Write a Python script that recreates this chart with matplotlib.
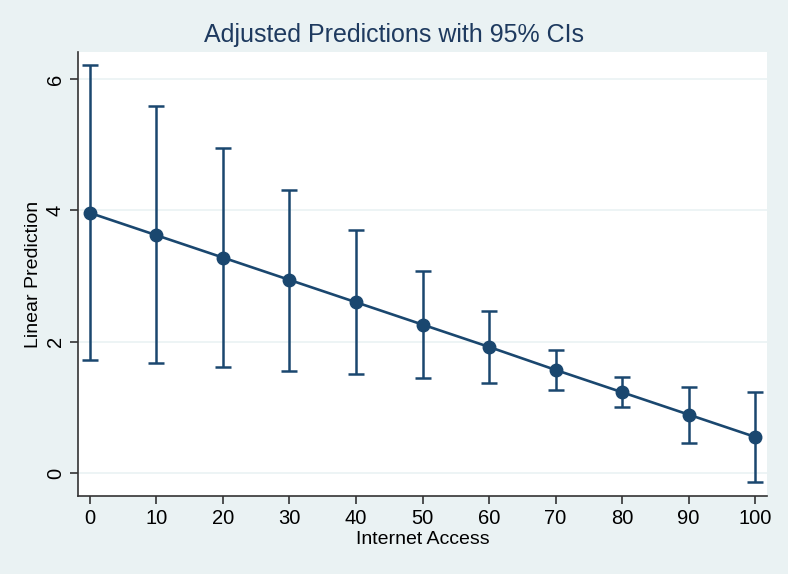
import numpy as np
import matplotlib
matplotlib.use('Agg')
import matplotlib.pyplot as plt

plt.rcParams['font.family'] = ['Liberation Sans', 'DejaVu Sans']

internet = [0, 10, 20, 30, 40, 50, 60, 70, 80, 90, 100]
pred = [3.96, 3.62, 3.28, 2.94, 2.60, 2.26, 1.92, 1.57, 1.23, 0.89, 0.55]
lower = [1.72, 1.67, 1.62, 1.56, 1.50, 1.44, 1.37, 1.27, 1.00, 0.46, -0.14]
upper = [6.21, 5.59, 4.95, 4.31, 3.70, 3.07, 2.46, 1.87, 1.46, 1.31, 1.23]

navy = '#1a476f'
bg = '#eaf2f3'

fig = plt.figure(figsize=(7.88, 5.74), dpi=100, facecolor=bg)
ax = fig.add_axes([78/788, 1 - 496/574, (767-78)/788, (496-52)/574])
ax.set_facecolor('white')

pred = np.array(pred)
yerr = [pred - np.array(lower), np.array(upper) - pred]
ax.errorbar(internet, pred, yerr=yerr, fmt='none', ecolor=navy, elinewidth=1.8,
            capsize=5.5, capthick=1.8, zorder=2)
ax.plot(internet, pred, color=navy, lw=1.9, marker='o', ms=9, zorder=3)

ax.set_xlim(-1.8, 101.8)
ax.set_ylim(-0.35, 6.41)
ax.set_xticks(internet)
ax.set_yticks([0, 2, 4, 6])
ax.grid(axis='y', color='#eaf2f3', lw=1.2)
ax.set_axisbelow(True)
for s in ['top', 'right']:
    ax.spines[s].set_visible(False)
for s in ['left', 'bottom']:
    ax.spines[s].set_color('#333333')
    ax.spines[s].set_linewidth(1.2)
ax.tick_params(axis='both', labelsize=14.5, length=6, width=1.2, color='#333333')
for lab in ax.get_yticklabels():
    lab.set_rotation(90)
    lab.set_va('center')

ax.set_xlabel('Internet Access', fontsize=14, labelpad=2)
ax.set_ylabel('Linear Prediction', fontsize=14, labelpad=3)
fig.text(0.5, 1 - 35/574, 'Adjusted Predictions with 95% CIs', fontsize=18,
         color='#1e3a5f', ha='center', va='center')

fig.savefig('out.png', dpi=100, facecolor=bg)
